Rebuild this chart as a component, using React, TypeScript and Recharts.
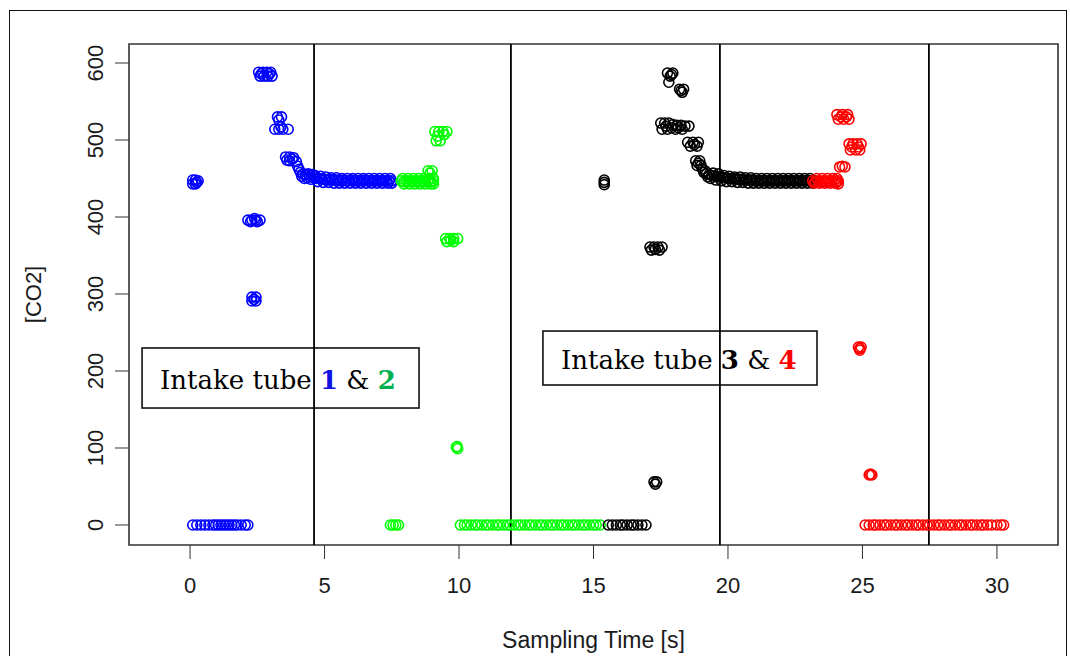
import React from "react";
import { ScatterChart, Scatter, XAxis, YAxis, ReferenceLine, ReferenceArea } from "recharts";

// ---- data ----
const xTicks = [0, 5, 10, 15, 20, 25, 30];
const yTicks = [0, 100, 200, 300, 400, 500, 600];
const xDomain: [number, number] = [-2.27, 32.27];
const yDomain: [number, number] = [-26, 624.7];
const dividers = [4.61, 11.93, 19.7, 27.47];

const tube1: [number, number][] = [
  [0.1, 448], [0.2, 448], [0.3, 447], [0.1, 443], [0.2, 443], [0.25, 445],
  [0.1, 0], [0.25, 0], [0.4, 0], [0.55, 0], [0.7, 0], [0.85, 0], [0.95, 0], [1.05, 0], [1.15, 0], [1.25, 0],
  [1.35, 0], [1.45, 0], [1.55, 0], [1.65, 0], [1.75, 0], [1.9, 0], [2.05, 0], [2.15, 0],
  [2.15, 396], [2.3, 396], [2.45, 396], [2.6, 396], [2.25, 394], [2.5, 394], [2.4, 398],
  [2.3, 296], [2.45, 296], [2.3, 291], [2.45, 291], [2.38, 293],
  [2.55, 588], [2.7, 588], [2.85, 588], [3.0, 588], [2.6, 583], [2.75, 583], [2.9, 583], [3.05, 583],
  [2.65, 586], [2.95, 586],
  [3.25, 530], [3.4, 530], [3.3, 526], [3.15, 514], [3.3, 514], [3.45, 514], [3.65, 514], [3.38, 517],
  [3.55, 478], [3.7, 478], [3.85, 477], [3.6, 474], [3.7, 473], [3.95, 472], [4.0, 466], [3.8, 475],
  [4.05, 462], [4.1, 458], [4.2, 456], [4.3, 455], [4.35, 451], [4.45, 452], [4.5, 449], [4.6, 451],
  [4.15, 453], [4.25, 450], [4.4, 456], [4.55, 455],
  [4.7, 450], [4.8, 450], [4.9, 449], [5.0, 449], [5.1, 448], [5.2, 449], [5.3, 448], [5.4, 448],
  [5.5, 448], [5.6, 447], [5.7, 448], [5.8, 447], [5.9, 447], [6.0, 448], [6.1, 447], [6.2, 447],
  [6.3, 447], [6.4, 447], [6.5, 448], [6.6, 447], [6.7, 447], [6.8, 447], [6.9, 447], [7.0, 447],
  [7.1, 447], [7.2, 447], [7.3, 447], [7.4, 447], [7.5, 447],
  [4.65, 454], [4.85, 453], [5.05, 452], [5.25, 451], [5.45, 451], [5.65, 450], [5.85, 450], [6.05, 450],
  [6.25, 450], [6.45, 450], [6.65, 450], [6.85, 450], [7.05, 450], [7.25, 450], [7.45, 450],
  [4.75, 446], [4.95, 445], [5.15, 445], [5.35, 444], [5.55, 444], [5.75, 444], [5.95, 444], [6.15, 444],
  [6.35, 444], [6.55, 444], [6.75, 444], [6.95, 444], [7.15, 444], [7.35, 444], [7.5, 444],
];

const tube2: [number, number][] = [
  [7.45, 0], [7.55, 0], [7.65, 0], [7.75, 0],
  [7.85, 447], [7.95, 446], [8.05, 447], [8.15, 446], [8.25, 447], [8.35, 446], [8.45, 447], [8.55, 446],
  [8.65, 447], [8.75, 446], [8.85, 447], [8.95, 446], [9.05, 447],
  [7.9, 450], [8.1, 450], [8.3, 450], [8.5, 450], [8.7, 450], [8.9, 450], [9.05, 450],
  [7.95, 443], [8.15, 443], [8.35, 443], [8.55, 443], [8.75, 443], [8.95, 443], [9.05, 443],
  [8.85, 460], [9.0, 460], [8.92, 457],
  [9.1, 511], [9.25, 511], [9.4, 511], [9.55, 511], [9.15, 499], [9.3, 499], [9.2, 505], [9.45, 507],
  [9.5, 372], [9.65, 372], [9.8, 372], [9.95, 372], [9.55, 368], [9.8, 368], [9.7, 370],
  [9.9, 101], [9.95, 99], [9.93, 102],
  [10.05, 0], [10.2, 0], [10.3, 0], [10.45, 0], [10.6, 0], [10.7, 0], [10.85, 0], [11.0, 0], [11.1, 0],
  [11.25, 0], [11.4, 0], [11.5, 0], [11.65, 0], [11.8, 0], [11.9, 0], [12.05, 0], [12.2, 0], [12.3, 0],
  [12.45, 0], [12.6, 0], [12.7, 0], [12.85, 0], [13.0, 0], [13.1, 0], [13.25, 0], [13.4, 0], [13.5, 0],
  [13.65, 0], [13.8, 0], [13.9, 0], [14.05, 0], [14.2, 0], [14.3, 0], [14.45, 0], [14.6, 0], [14.7, 0],
  [14.85, 0], [15.0, 0], [15.1, 0], [15.25, 0],
];

const tube3: [number, number][] = [
  [15.4, 448], [15.4, 445], [15.4, 442],
  [15.55, 0], [15.7, 0], [15.85, 0], [16.0, 0], [16.1, 0], [16.25, 0], [16.4, 0], [16.5, 0], [16.65, 0],
  [16.8, 0], [16.95, 0],
  [17.25, 56], [17.35, 56], [17.3, 53],
  [17.1, 361], [17.25, 361], [17.4, 361], [17.55, 361], [17.15, 357], [17.45, 357], [17.3, 358],
  [17.75, 587], [17.95, 587], [17.85, 583], [17.8, 575], [17.9, 585],
  [18.2, 566], [18.35, 566], [18.3, 562], [18.25, 564],
  [17.5, 522], [17.65, 522], [17.8, 522], [17.95, 520], [18.1, 519], [18.25, 519], [18.4, 518], [18.55, 518],
  [17.55, 514], [17.75, 514], [17.9, 516], [18.05, 514], [18.3, 514], [17.7, 518], [18.15, 516],
  [18.5, 497], [18.7, 497], [18.9, 497], [18.6, 492], [18.85, 492], [18.75, 494],
  [18.8, 473], [18.95, 473], [18.85, 467], [19.0, 467], [18.9, 470],
  [19.05, 462], [19.1, 458], [19.2, 456], [19.3, 455], [19.4, 454], [19.5, 453], [19.6, 452], [19.7, 452],
  [19.8, 451], [19.9, 451], [20.0, 450], [20.1, 450], [20.2, 450], [20.3, 449], [20.4, 449], [20.5, 449],
  [20.6, 448], [20.7, 448], [20.8, 448], [20.9, 448], [21.0, 447], [21.1, 447], [21.2, 447], [21.3, 447],
  [21.4, 447], [21.5, 447], [21.6, 447], [21.7, 447], [21.8, 447], [21.9, 447], [22.0, 447], [22.1, 447],
  [22.2, 447], [22.3, 447], [22.4, 447], [22.5, 447], [22.6, 447], [22.7, 447], [22.8, 447], [22.9, 447],
  [23.0, 447], [23.1, 447], [23.2, 447],
  [19.15, 460], [19.25, 452], [19.35, 450], [19.45, 457], [19.55, 448], [19.65, 456], [19.75, 447],
  [19.85, 454], [19.95, 446], [20.05, 453], [20.15, 446], [20.25, 452], [20.35, 445], [20.45, 452],
  [20.55, 445], [20.65, 451], [20.75, 444], [20.85, 451], [20.95, 444], [21.05, 450], [21.15, 444],
  [21.25, 450], [21.35, 444], [21.45, 450], [21.55, 444], [21.65, 450], [21.75, 444], [21.85, 450],
  [21.95, 444], [22.05, 450], [22.15, 444], [22.25, 450], [22.35, 444], [22.45, 450], [22.55, 444],
  [22.65, 450], [22.75, 444], [22.85, 450], [22.95, 444], [23.05, 450], [23.15, 444],
];

const tube4: [number, number][] = [
  [23.15, 447], [23.25, 446], [23.35, 447], [23.45, 446], [23.55, 447], [23.65, 446], [23.75, 447],
  [23.85, 446], [23.95, 447], [24.05, 446], [24.1, 447],
  [23.2, 444], [23.4, 444], [23.6, 444], [23.8, 444], [24.0, 444], [24.1, 443],
  [23.3, 450], [23.5, 450], [23.7, 450], [23.9, 450], [24.05, 450],
  [24.15, 465], [24.35, 465], [24.25, 466],
  [24.05, 533], [24.25, 533], [24.45, 533], [24.1, 527], [24.3, 527], [24.5, 527], [24.2, 530], [24.4, 530],
  [24.5, 495], [24.65, 495], [24.8, 495], [24.95, 495], [24.55, 487], [24.75, 487], [24.9, 487],
  [24.6, 491], [24.85, 491],
  [24.85, 231], [24.95, 231], [24.9, 227], [24.9, 229],
  [25.25, 65], [25.35, 65], [25.3, 66],
  [25.1, 0], [25.25, 0], [25.4, 0], [25.5, 0], [25.65, 0], [25.8, 0], [25.9, 0], [26.05, 0], [26.2, 0],
  [26.3, 0], [26.45, 0], [26.6, 0], [26.7, 0], [26.85, 0], [27.0, 0], [27.1, 0], [27.25, 0], [27.4, 0],
  [27.5, 0], [27.65, 0], [27.8, 0], [27.9, 0], [28.05, 0], [28.2, 0], [28.3, 0], [28.45, 0], [28.6, 0],
  [28.7, 0], [28.85, 0], [29.0, 0], [29.1, 0], [29.25, 0], [29.4, 0], [29.5, 0], [29.65, 0], [29.8, 0],
  [30.0, 0], [30.15, 0], [30.25, 0],
];

const toObjs = (a: [number, number][]) => a.map(([x, y]) => ({ x, y }));

const SANS = "'Liberation Sans', Arial, sans-serif";
const SERIF = "'DejaVu Serif', serif";

const ring = (color: string) => (p: any) =>
  <circle cx={p.cx} cy={p.cy} r={5} fill="none" stroke={color} strokeWidth={1.6} />;

const XTick = (p: any) => (
  <text x={p.x} y={p.y} textAnchor="middle" fontFamily={SANS} fontSize={22} fill="#1a1a1a">
    {p.payload.value}
  </text>
);

const YTick = (p: any) => (
  <text x={p.x} y={p.y} transform={`rotate(-90, ${p.x}, ${p.y})`} textAnchor="middle"
    fontFamily={SANS} fontSize={22} fill="#1a1a1a">
    {p.payload.value}
  </text>
);

const boxShape = (parts: { t: string; c?: string; b?: boolean }[]) => (p: any) => (
  <g>
    <rect x={p.x} y={p.y} width={p.width} height={p.height} fill="none" stroke="#111" strokeWidth={1.6} />
    <text x={p.x + 18} y={p.y + p.height / 2 + 11} fontFamily={SERIF} fontSize={26} fill="#000">
      {parts.map((s, i) => (
        <tspan key={i} fill={s.c || "#000"} fontWeight={s.b ? "bold" : "normal"}>{s.t}</tspan>
      ))}
    </text>
  </g>
);

export default function App() {
  return (
    <div style={{ position: "fixed", left: 0, top: 0, width: 1070, height: 656, background: "#fff", overflow: "hidden" }}>
      <div style={{ position: "absolute", left: 9, top: 10, width: 1056, height: 700, border: "1px solid #111" }} />
      <div style={{ position: "absolute", left: 0, top: 0 }}>
        <ScatterChart width={1070} height={656} margin={{ top: 44, right: 12, bottom: 0, left: 10 }}>
          <XAxis type="number" dataKey="x" domain={xDomain} allowDataOverflow ticks={xTicks} interval={0}
            tickSize={14} tickMargin={34} height={111} axisLine={false} tickLine={{ stroke: "#333" }}
            tick={XTick}
            label={{ value: "Sampling Time [s]", position: "insideBottom", offset: 8, fontSize: 23, fill: "#1a1a1a", fontFamily: SANS }} />
          <YAxis type="number" dataKey="y" domain={yDomain} allowDataOverflow ticks={yTicks} interval={0}
            width={119} tickSize={14} tickMargin={12} axisLine={false} tickLine={{ stroke: "#333" }}
            tick={YTick}
            label={{ value: "[CO2]", angle: -90, position: "insideLeft", offset: 23, fontSize: 22, fill: "#1a1a1a", fontFamily: SANS, style: { textAnchor: "middle" } }} />
          <Scatter data={toObjs(tube1)} isAnimationActive={false} shape={ring("#0000FF")} />
          <Scatter data={toObjs(tube2)} isAnimationActive={false} shape={ring("#00FF00")} />
          <Scatter data={toObjs(tube3)} isAnimationActive={false} shape={ring("#000000")} />
          <Scatter data={toObjs(tube4)} isAnimationActive={false} shape={ring("#FF0000")} />
          {dividers.map((d) => (
            <ReferenceLine key={d} x={d} stroke="#000" strokeWidth={1.8} />
          ))}
          <ReferenceArea x1={xDomain[0]} x2={xDomain[1]} y1={yDomain[0]} y2={yDomain[1]} ifOverflow="visible"
            fill="none" stroke="#333" strokeWidth={1.6} fillOpacity={0} />
          <ReferenceArea x1={-1.784} x2={8.513} y1={151.9} y2={229.9} ifOverflow="visible"
            shape={boxShape([{ t: "Intake tube " }, { t: "1", c: "#1010E0", b: true }, { t: " & " }, { t: "2", c: "#00B050", b: true }])} />
          <ReferenceArea x1={13.12} x2={23.31} y1={181.8} y2={251.9} ifOverflow="visible"
            shape={boxShape([{ t: "Intake tube " }, { t: "3", b: true }, { t: " & " }, { t: "4", c: "#FF0000", b: true }])} />
        </ScatterChart>
      </div>
    </div>
  );
}
